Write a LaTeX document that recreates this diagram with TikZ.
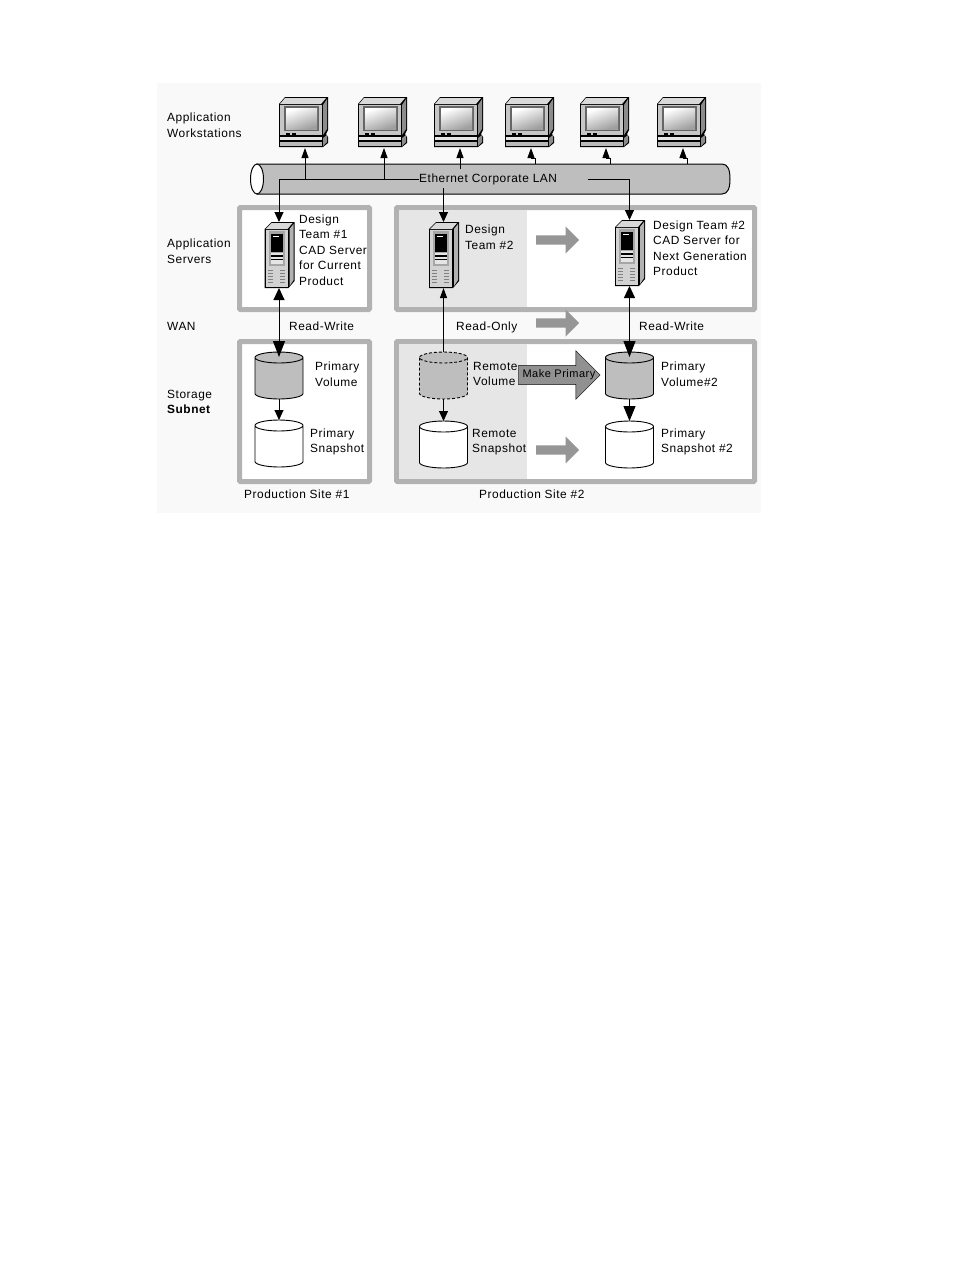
\documentclass[tikz,border=0pt]{standalone}
\usepackage{fontspec}
\setmainfont{Liberation Sans}[LetterSpace=4.5]
\usetikzlibrary{arrows.meta,positioning,shapes.arrows}
\definecolor{framegray}{RGB}{178,178,178}
\definecolor{langray}{RGB}{190,190,190}
\definecolor{sitegray}{RGB}{230,230,230}
\definecolor{blockgray}{RGB}{150,150,150}
\definecolor{makegray}{RGB}{145,145,145}
\definecolor{pagegray}{RGB}{249,249,249}

\begin{document}
\begin{tikzpicture}[
        x=1pt, y=-1pt,
        txt/.style={anchor=west, align=left, inner sep=0pt, text=black,
            font=\fontsize{11.9}{15.5}\selectfont},
        site/.style={draw=framegray, fill=white, line width=5pt, rounded corners=1pt, outer sep=0pt},
        block/.style={shape=single arrow, fill=blockgray, minimum width=27pt, minimum height=43pt,
            single arrow head extend=9pt, single arrow head indent=0pt, inner sep=4.5pt, anchor=tail},
        link/.style={-{Triangle[width=7pt,length=10pt]}, line width=1pt},
        srvlink/.style={-{Triangle[width=9pt,length=10pt]}, line width=1pt},
        biglink/.style={{Triangle[width=11pt,length=12pt]}-{Triangle[width=12pt,length=16pt]}, line width=1pt},
        drum/.pic={
            \draw[pic actions, line width=0.9pt] (-24,5.5) -- (-24,41.5) .. controls (-24,44.5) and (-13,47) .. (0,47)
                .. controls (13,47) and (24,44.5) .. (24,41.5) -- (24,5.5) .. controls (24,2.5) and (13,0) .. (0,0)
                .. controls (-13,0) and (-24,2.5) .. (-24,5.5) .. controls (-24,8.5) and (-13,11) .. (0,11)
                .. controls (13,11) and (24,8.5) .. (24,5.5);
            \coordinate (-top) at (0,0);
            \coordinate (-in) at (0,5);
            \coordinate (-bot) at (0,47);
        },
        workstation/.pic={
            \fill[black] (0,7) -- (6,0) -- (49,0) -- (49,33) -- (47,37) -- (49,40) -- (49,46) -- (44,50) -- (0,50) -- cycle;
            \fill[gray!30] (1,7) -- (6,1) -- (47,1) -- (42,7) -- cycle;
            \fill[gray!90] (44,8) -- (48,2) -- (48,32) -- (44,38) -- cycle;
            \fill[gray!45] (1,8) rectangle (43,38);
            \fill[gray!80!black] (5,9) rectangle (40,34);
            \shade[left color=white, right color=gray!75, shading angle=20] (7,11) rectangle (38,32);
            \fill[black] (7,35.5) rectangle (11,37.5);
            \fill[black] (13,35.5) rectangle (17,37.5);
            \fill[gray!20] (1,40) rectangle (43,43);
            \fill[gray!55] (1,44.5) rectangle (43,49);
            \fill[gray!90] (44,41) -- (48,38) -- (48,45) -- (44,49) -- cycle;
            \coordinate (-bot) at (26,51);
        },
        server/.pic={
            \fill[black] (0,7) -- (7,0) -- (30,0) -- (30,59) -- (24,66) -- (0,66) -- cycle;
            \fill[gray!30] (1,7) -- (7,1) -- (28,1) -- (23,7) -- cycle;
            \fill[gray!60] (25,7) -- (29,2) -- (29,58) -- (25,64) -- cycle;
            \fill[gray!35] (1,8) rectangle (23,65);
            \fill[gray!70] (4,9) rectangle (20,44);
            \fill[black] (6,12) rectangle (18,30);
            \fill[white] (8,14) rectangle (14,15);
            \fill[gray!20] (6,31) rectangle (18,33);
            \fill[black] (6,33) rectangle (18,35);
            \fill[gray!20] (6,35) rectangle (18,37);
            \fill[black] (6,37) rectangle (18,38);
            \fill[gray!20] (6,38) rectangle (18,42);
            \foreach \ya in {48,51,...,62} {
                \fill[gray] (3,\ya) rectangle (8,\ya+1);
                \fill[gray] (15,\ya) rectangle (20,\ya+1);
            }
            \coordinate (-top) at (14.5,0);
            \coordinate (-bot) at (14.5,66);
        }
    ]
    \useasboundingbox (0,0) rectangle (954,1270);
    \fill[pagegray] (157,83) rectangle (761,513);

    % sites
    \node[site, minimum width=130pt, minimum height=102pt, anchor=north west] (site1app) at (239.5,207.5) {};
    \node[site, minimum width=130pt, minimum height=140pt, below=32pt of site1app.south west, anchor=north west] (site1sto) {};
    \node[site, minimum width=358pt, minimum height=102pt, anchor=north west] (site2app) at (396.5,207.5) {};
    \node[site, minimum width=358pt, minimum height=140pt, below=32pt of site2app.south west, anchor=north west] (site2sto) {};
    \fill[sitegray] (399,210) rectangle (527,307);
    \fill[sitegray] (399,344) rectangle (527,479);

    % lan pipe
    \draw[line width=1pt, fill=langray] (257,164) -- (722,164) .. controls (728,164) and (730,170) .. (730,179)
        .. controls (730,188) and (728,194) .. (722,194) -- (257,194) -- cycle;
    \draw[line width=1pt, fill=white] (257,179) ellipse (6.5 and 15);
    \node[txt] (lan) at (419,179) {Ethernet Corporate LAN};

    % workstations
    \foreach \name/\xa in {wsa/279,wsb/358,wsc/434,wsd/505,wse/580,wsf/657}
        \pic (\name) at (\xa,97) {workstation};

    % servers
    \pic (srva) at (264.5,222) {server};
    \pic (srvb) at (429,222) {server};
    \pic (srvc) at (615,220) {server};

    % volumes
    \pic[fill=langray] (vola) at (279,352) {drum};
    \pic[fill=white] (snapa) at (279,420) {drum};
    \pic[fill=langray, densely dashed] (volb) at (443.5,352) {drum};
    \pic[fill=white] (snapb) at (443.5,421) {drum};
    \pic[fill=langray] (volc) at (629.5,352) {drum};
    \pic[fill=white] (snapc) at (629.5,421) {drum};

    % block arrows
    \node[block] (movea) at (536,240) {};
    \node[block] (moveb) at (536,323) {};
    \node[block] (movec) at (536,450) {};
    \node[shape=single arrow, draw=black, fill=makegray, minimum width=48pt, minimum height=82pt,
        single arrow head extend=15pt, single arrow head indent=0pt, inner xsep=4pt, inner ysep=4pt, anchor=tail,
        font=\fontsize{11}{12}\selectfont]
        (makeprimary) at (518,375) {\makebox[50pt][l]{\hspace*{-7pt}Make Primary}};

    % links
    \coordinate (busleft) at (srva-top |- lan.west);
    \coordinate (busright) at (srvc-top |- lan.west);
    \draw[line width=1pt] (lan.west) -- (busleft);
    \draw[srvlink] (busleft) -- (srva-top);
    \draw[link] (wsa-bot |- lan.west) -- (wsa-bot);
    \draw[link] (wsb-bot |- lan.west) -- (wsb-bot);
    \draw[link] ([shift={(0,21)}]wsc-bot) -- (wsc-bot);
    \foreach \name in {wsd,wse,wsf}
        \draw[link] ([shift={(4,16)}]\name-bot) -- ++(0,-6) -- ++(-4,0) -- (\name-bot);
    \draw[srvlink] ([shift={(0,-34)}]srvb-top) -- (srvb-top);
    \draw[line width=1pt] ([shift={(-42,0)}]busright) -- (busright);
    \draw[srvlink] (busright) -- (srvc-top);
    \draw[biglink] (srva-bot) -- (vola-in);
    \draw[biglink] (srvc-bot) -- (volc-in);
    \draw[link] (volb-top) -- (srvb-bot);
    \draw[srvlink] (vola-bot) -- (snapa-top);
    \draw[srvlink] (volb-bot) -- (snapb-top);
    \draw[-{Triangle[width=12pt,length=15pt]}, line width=1pt] (volc-bot) -- (snapc-top);

    % labels
    \node[txt] (lblws) at (167,125) {Application\\Workstations};
    \node[txt] (lblsrv) at (167,251) {Application\\Servers};
    \node[txt] (lblwan) at (167,326) {WAN};
    \node[txt] (lblsto) at (167,402) {Storage\\\textbf{Subnet}};
    \node[txt] (txtsrva) at (299,250) {Design\\Team \#1\\CAD Server\\for Current\\Product};
    \node[txt] (txtsrvb) at (465,237) {Design\\Team \#2};
    \node[txt] (txtsrvc) at (653,248) {Design Team \#2\\CAD Server for\\Next Generation\\Product};
    \node[txt] (rwa) at (289,326) {Read-Write};
    \node[txt] (ro) at (456,327) {Read-Only};
    \node[txt] (rwb) at (639,326) {Read-Write};
    \node[txt] (txtvola) at (315,374) {Primary\\Volume};
    \node[txt] (txtsnapa) at (310,442) {Primary\\Snapshot};
    \node[txt] (txtvolb) at (473,374) {Remote\\Volume};
    \node[txt] (txtsnapb) at (472,442) {Remote\\Snapshot};
    \node[txt] (txtvolc) at (661,374) {Primary\\Volume\#2};
    \node[txt] (txtsnapc) at (661,442) {Primary\\Snapshot \#2};
    \node[txt] (sitea) at (244,494) {Production Site \#1};
    \node[txt] (siteb) at (479,494) {Production Site \#2};
\end{tikzpicture}
\end{document}
